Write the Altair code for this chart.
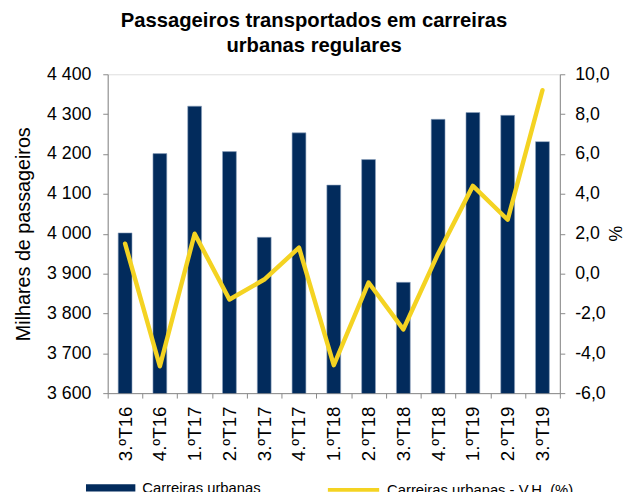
import altair as alt
import pandas as pd

quarters = ["3.ºT16", "4.ºT16", "1.ºT17", "2.ºT17", "3.ºT17", "4.ºT17", "1.ºT18",
            "2.ºT18", "3.ºT18", "4.ºT18", "1.ºT19", "2.ºT19", "3.ºT19"]
passageiros = [4002, 4201, 4320, 4206, 3991, 4253, 4122, 4186, 3878, 4287, 4304, 4297, 4231]
variacao = [1.5, -4.65, 2.0, -1.3, -0.3, 1.3, -4.6, -0.45, -2.8, 1.0, 4.4, 2.7, 9.2]

bar_name = "Carreiras urbanas"
line_name = "Carreiras urbanas - V.H. (%)"

df = pd.DataFrame({"q": quarters, "p": passageiros, "v": variacao})

FONT = "Liberation Sans"
NAVY = "#022b5c"
YELLOW = "#f4d322"
LBL = 18

x = alt.X("q:N", sort=quarters, title=None,
          scale=alt.Scale(paddingInner=0, paddingOuter=0),
          axis=alt.Axis(labelAngle=-90, labelFontSize=19, labelFont=FONT, labelColor="#000",
                        tickBand="extent", tickSize=5, labelPadding=8,
                        domainColor="#888", tickColor="#888", labelBaseline="middle",
                        labelAlign="right"))

bars = alt.Chart(df).mark_bar(size=14, stroke="#8fa3bf", strokeWidth=0.6, clip=True).encode(
    x=x,
    y=alt.Y("p:Q", title="Milhares de passageiros",
            scale=alt.Scale(domain=[3600, 4400], nice=False, zero=False),
            axis=alt.Axis(values=list(range(3600, 4401, 100)), grid=False,
                          labelExpr="replace(format(datum.value, ','), ',', ' ')",
                          labelFontSize=LBL, labelFont=FONT, labelColor="#000",
                          titleFontSize=20, titleFont=FONT, titleFontWeight="normal",
                          titleColor="#000", titlePadding=13, tickSize=5, labelPadding=12,
                          domainColor="#888", tickColor="#888")),
    fill=alt.Fill("name:N", scale=alt.Scale(domain=[bar_name], range=[NAVY]),
                  legend=alt.Legend(title=None, orient="none", legendX=-22, legendY=394,
                                    symbolType="M-1,-0.15H1V0.15H-1Z", symbolSize=2500,
                                    symbolStrokeWidth=0, labelFontSize=15, labelFont=FONT,
                                    labelColor="#000", padding=0, labelOffset=7,
                                    labelLimit=300)),
).transform_calculate(name=f"'{bar_name}'")

line = alt.Chart(df).mark_line(strokeWidth=4.5, strokeCap="round", strokeJoin="round").encode(
    x=x,
    y=alt.Y("v:Q", title="%",
            scale=alt.Scale(domain=[-6, 10], nice=False, zero=False),
            axis=alt.Axis(orient="right", values=list(range(-6, 11, 2)), grid=False,
                          labelExpr="(datum.value < 0 ? '-' : '') + replace(format(abs(datum.value), '.1f'), '.', ',')",
                          labelFontSize=LBL, labelFont=FONT, labelColor="#000",
                          titleFontSize=18, titleFont=FONT, titleFontWeight="normal",
                          titleColor="#000", titleX=54, titleY=161, titleAngle=90,
                          titleBaseline="middle", titleAlign="center",
                          tickSize=5, labelPadding=10,
                          domainColor="#888", tickColor="#888")),
    stroke=alt.Stroke("name:N", scale=alt.Scale(domain=[line_name], range=[YELLOW]),
                      legend=alt.Legend(title=None, orient="none", legendX=221, legendY=393,
                                        symbolType="stroke", symbolSize=2700,
                                        symbolStrokeWidth=4, labelFontSize=15, labelFont=FONT,
                                        labelColor="#000", padding=0, labelOffset=6,
                                        labelLimit=300)),
).transform_calculate(name=f"'{line_name}'")

chart = alt.layer(bars, line).resolve_scale(y="independent", fill="independent", stroke="independent").properties(
    width=458, height=323,
    autosize=alt.AutoSizeParams(type="none"),
    padding={"left": 101, "top": 64, "right": 66, "bottom": 97},
    title=alt.TitleParams(text=["Passageiros transportados em carreiras", "urbanas regulares"],
                          fontSize=20.5, font=FONT, fontWeight="bold", color="#000",
                          anchor="middle", dx=-20, offset=9, lineHeight=25),
).configure_view(stroke=None).configure(background="white")

chart.save("out.html", embed_options={"renderer": "svg", "actions": False})
